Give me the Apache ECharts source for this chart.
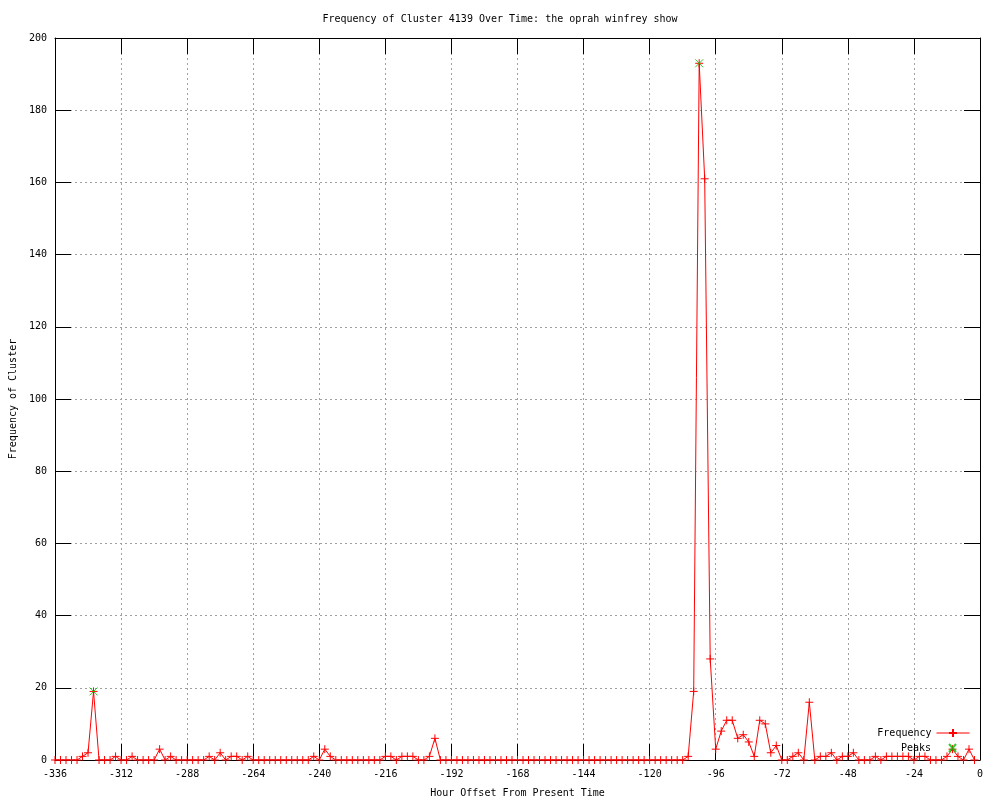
<!DOCTYPE html>
<html><head><meta charset="utf-8">
<script src="https://cdn.jsdelivr.net/npm/echarts@6/dist/echarts.min.js"></script>
<style>html,body{margin:0;padding:0;background:#fff}#c{width:1000px;height:800px}</style>
</head><body><div id="c"></div>
<script>
const hours = [
-336,-334,-332,-330,-328,-326,-324,-322,-320,-318,
-316,-314,-312,-310,-308,-306,-304,-302,-300,-298,
-296,-294,-292,-290,-288,-286,-284,-282,-280,-278,
-276,-274,-272,-270,-268,-266,-264,-262,-260,-258,
-256,-254,-252,-250,-248,-246,-244,-242,-240,-238,
-236,-234,-232,-230,-228,-226,-224,-222,-220,-218,
-216,-214,-212,-210,-208,-206,-204,-202,-200,-198,
-196,-194,-192,-190,-188,-186,-184,-182,-180,-178,
-176,-174,-172,-170,-168,-166,-164,-162,-160,-158,
-156,-154,-152,-150,-148,-146,-144,-142,-140,-138,
-136,-134,-132,-130,-128,-126,-124,-122,-120,-118,
-116,-114,-112,-110,-108,-106,-104,-102,-100,-98,
-96,-94,-92,-90,-88,-86,-84,-82,-80,-78,
-76,-74,-72,-70,-68,-66,-64,-62,-60,-58,
-56,-54,-52,-50,-48,-46,-44,-42,-40,-38,
-36,-34,-32,-30,-28,-26,-24,-22,-20,-18,
-16,-14,-12,-10,-8,-6,-4,-2
];
const frequency = [
0,0,0,0,0,1,2,19,0,0,
0,1,0,0,1,0,0,0,0,3,
0,1,0,0,0,0,0,0,1,0,
2,0,1,1,0,1,0,0,0,0,
0,0,0,0,0,0,0,1,0,3,
1,0,0,0,0,0,0,0,0,0,
1,1,0,1,1,1,0,0,1,6,
0,0,0,0,0,0,0,0,0,0,
0,0,0,0,0,0,0,0,0,0,
0,0,0,0,0,0,0,0,0,0,
0,0,0,0,0,0,0,0,0,0,
0,0,0,0,0,1,19,193,161,28,
3,8,11,11,6,7,5,1,11,10,
2,4,0,0,1,2,0,16,0,1,
1,2,0,1,1,2,0,0,0,1,
0,1,1,1,1,1,0,1,1,0,
0,0,1,3,1,0,3,0
];
const peakHours = [-322, -102];
const peakValues = [19, 193];

const FONT = 'DejaVu Sans Mono';
const txt = {fontFamily: FONT, fontSize: 10, color: '#000'};
const chart = echarts.init(document.getElementById('c'), null, {renderer: 'canvas'});
const gridLine = {show: true, lineStyle: {color: '#a0a0a0', type: [2, 3], width: 1}};
const tick = {show: true, inside: true, length: 16, lineStyle: {color: '#000', width: 1}};
const border = {show: true, onZero: false, lineStyle: {color: '#000', width: 1}};

chart.setOption({
  animation: false,
  backgroundColor: '#fff',
  title: {
    text: 'Frequency of Cluster 4139 Over Time: the oprah winfrey show',
    left: 'center', top: 14, padding: 0,
    textStyle: {fontFamily: FONT, fontSize: 10, fontWeight: 'normal', color: '#000'}
  },
  grid: {left: 55, right: 20, top: 38, bottom: 40, containLabel: false, outerBoundsMode: 'none'},
  legend: [
    {data: ['Frequency'], right: 30, top: 728, padding: 0, align: 'right', orient: 'vertical',
     itemWidth: 33, itemHeight: 10, textStyle: txt, selectedMode: false,
     lineStyle: {width: 1, color: '#ff0000'}},
    {data: ['Peaks'], right: 30, top: 742, padding: 0, align: 'right', orient: 'vertical',
     itemWidth: 33, itemHeight: 10, textStyle: txt, selectedMode: false,
     icon: 'path://M0,0M33,10M13,1L20,9M20,1L13,9'}
  ],
  xAxis: [
    {type: 'value', position: 'bottom', min: -336, max: 0, interval: 24,
     name: 'Hour Offset From Present Time', nameLocation: 'middle', nameGap: 28,
     nameTextStyle: txt, axisLabel: Object.assign({margin: 9}, txt),
     axisLine: border, axisTick: tick, splitLine: gridLine},
    {type: 'value', position: 'top', min: -336, max: 0, interval: 24,
     axisLabel: {show: false}, axisLine: border, axisTick: tick, splitLine: {show: false}}
  ],
  yAxis: [
    {type: 'value', position: 'left', min: 0, max: 200, interval: 20,
     name: 'Frequency of Cluster', nameLocation: 'middle', nameGap: 36, nameRotate: 90,
     nameTextStyle: txt, axisLabel: Object.assign({margin: 8}, txt),
     axisLine: border, axisTick: tick, splitLine: gridLine},
    {type: 'value', position: 'right', min: 0, max: 200, interval: 20,
     axisLabel: {show: false}, axisLine: border, axisTick: tick, splitLine: {show: false}}
  ],
  series: [
    {name: 'Frequency', type: 'line', xAxisIndex: 0, yAxisIndex: 0,
     data: hours.map((h, i) => [h, frequency[i]]),
     showAllSymbol: true,
     symbol: 'path://M4,0L4,8M0,4L8,4', symbolSize: 8,
     lineStyle: {color: '#ff0000', width: 1},
     itemStyle: {color: '#ff0000', borderColor: '#ff0000', borderWidth: 1},
     emphasis: {disabled: true}, z: 3},
    {name: 'Peaks', type: 'scatter', xAxisIndex: 0, yAxisIndex: 0,
     data: peakHours.map((h, i) => [h, peakValues[i]]),
     symbol: 'path://M0,0L8,8M8,0L0,8', symbolSize: 8,
     itemStyle: {color: 'rgba(0,0,0,0)', borderColor: '#00c000', borderWidth: 1},
     emphasis: {disabled: true}, z: 4}
  ]
});
</script></body></html>
